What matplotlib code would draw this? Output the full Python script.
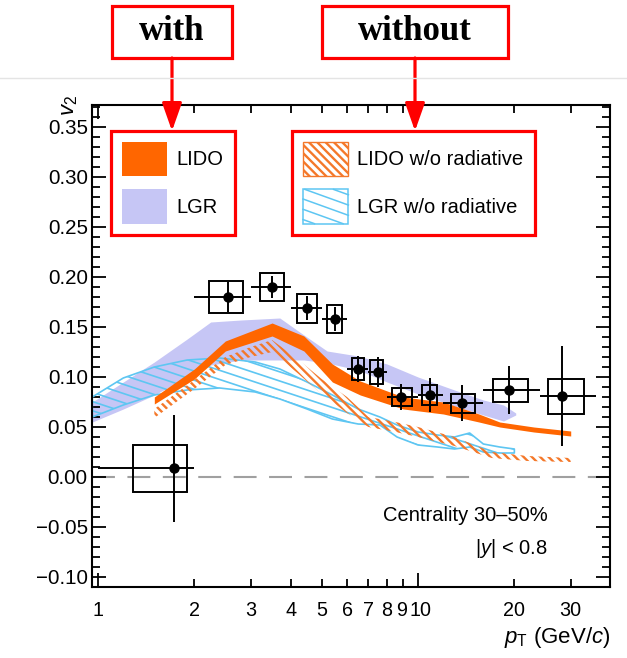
import numpy as np
import matplotlib
matplotlib.use("Agg")
import matplotlib.pyplot as plt
from matplotlib.patches import Patch, Rectangle, FancyArrowPatch
from matplotlib.collections import LineCollection
from matplotlib.lines import Line2D
from matplotlib.ticker import FixedLocator, MultipleLocator, FuncFormatter
from matplotlib.transforms import ScaledTranslation

plt.rcParams['font.family'] = ['Liberation Sans', 'DejaVu Sans']
plt.rcParams['mathtext.fontset'] = 'custom'
plt.rcParams['mathtext.rm'] = 'Liberation Sans'
plt.rcParams['mathtext.it'] = 'Liberation Sans:italic'
plt.rcParams['hatch.linewidth'] = 1.7

# ---- measured data (v2 vs pT) ----
pt = [1.73, 2.55, 3.5, 4.5, 5.5, 6.5, 7.5, 8.85, 10.9, 13.7, 19.2, 28.2]
pt_lo = [1, 2, 3, 4, 5, 6, 7, 8, 10, 12, 16, 24]
pt_hi = [2, 3, 4, 5, 6, 7, 8, 10, 12, 16, 24, 36]
v2 = [0.009, 0.180, 0.190, 0.169, 0.158, 0.108, 0.105, 0.080, 0.082, 0.074, 0.087, 0.081]
v2_stat = [0.0535, 0.015, 0.011, 0.012, 0.012, 0.013, 0.015, 0.013, 0.017, 0.018, 0.024, 0.050]
v2_syst = [0.0235, 0.016, 0.014, 0.0145, 0.014, 0.011, 0.012, 0.009, 0.010, 0.0095, 0.0115, 0.0175]
box_lo = [1.29, 2.22, 3.21, 4.18, 5.2, 6.2, 7.1, 8.3, 10.3, 12.7, 17.1, 25.4]
box_hi = [1.90, 2.84, 3.81, 4.84, 5.8, 6.8, 7.8, 9.6, 11.5, 15.1, 22.0, 33.0]

# ---- model bands ----
lgr_x = [0.96, 1.2, 1.5, 1.9, 2.25, 2.8, 3.7, 4.4, 5.2, 6.5, 8, 10, 13, 16, 18.5, 20.2]
lgr_hi = [0.075, 0.095, 0.115, 0.138, 0.155, 0.157, 0.159, 0.142, 0.126, 0.121, 0.113, 0.100, 0.087, 0.077, 0.072, 0.064]
lgr_lo = [0.055, 0.068, 0.082, 0.100, 0.112, 0.117, 0.117, 0.117, 0.114, 0.107, 0.095, 0.083, 0.071, 0.062, 0.056, 0.062]

lido_x = [1.5, 2.0, 2.5, 3.5, 4.4, 5.4, 6.6, 9, 12, 15.5, 18, 23, 30]
lido_hi = [0.080, 0.108, 0.136, 0.154, 0.141, 0.113, 0.096, 0.080, 0.075, 0.063, 0.055, 0.050, 0.046]
lido_lo = [0.073, 0.098, 0.126, 0.141, 0.126, 0.095, 0.082, 0.068, 0.063, 0.055, 0.050, 0.045, 0.041]

lido_norad_x = [1.5, 2.0, 2.5, 3.0, 3.5, 4.2, 5.0, 6.0, 7.0, 8.5, 10, 13, 17, 22, 30]
lido_norad_hi = [0.068, 0.097, 0.120, 0.130, 0.137, 0.118, 0.098, 0.080, 0.060, 0.055, 0.050, 0.040, 0.025, 0.021, 0.019]
lido_norad_lo = [0.059, 0.088, 0.112, 0.120, 0.125, 0.104, 0.083, 0.064, 0.050, 0.045, 0.040, 0.031, 0.019, 0.016, 0.015]

lgr_norad_x = [0.96, 1.2, 1.5, 1.9, 2.4, 3.1, 3.7, 4.5, 5.4, 6.5, 7.6, 8.6, 10, 11.5, 13, 14.5, 16, 18, 20]
lgr_norad_hi = [0.080, 0.099, 0.110, 0.117, 0.119, 0.115, 0.108, 0.095, 0.082, 0.068, 0.060, 0.052, 0.045, 0.042, 0.040, 0.044, 0.033, 0.030, 0.028]
lgr_norad_lo = [0.060, 0.072, 0.082, 0.087, 0.089, 0.085, 0.078, 0.068, 0.058, 0.053, 0.052, 0.040, 0.032, 0.030, 0.028, 0.030, 0.025, 0.024, 0.024]

c_lido = '#ff6600'
c_lido_h = '#f4782a'
c_lgr = '#c6c6f5'
c_blue = '#5ec6f2'

W, H = 627, 658
def fx(px):
    return px / W
def fy(py):
    return 1 - py / H

fig = plt.figure(figsize=(6.27, 6.58), dpi=100)
ax = fig.add_axes([fx(92), fy(587), fx(610) - fx(92), fy(105) - fy(587)])

# bands
ax.fill_between(lgr_x, lgr_lo, lgr_hi, color=c_lgr, lw=0, zorder=1)
band = ax.fill_between(lgr_norad_x, lgr_norad_lo, lgr_norad_hi, facecolor='none',
                       edgecolor=c_blue, lw=1.2, zorder=2)
# shallow hatch lines for the LGR w/o radiative band
segs = [[(0, c), (1, c - 0.355)] for c in np.arange(0.1, 1.0, 0.019)]
lc = LineCollection(segs, colors=c_blue, linewidths=1.2, transform=ax.transAxes, zorder=2)
lc.set_clip_path(band.get_paths()[0], band.get_transform())
ax.add_collection(lc)

ax.fill_between(lido_norad_x, lido_norad_lo, lido_norad_hi, facecolor='none',
                edgecolor=c_lido_h, lw=0, hatch='\\\\\\\\', zorder=3)
ax.fill_between(lido_x, lido_lo, lido_hi, color=c_lido, lw=0, zorder=4)

ax.axhline(0, color='#a0a0a0', lw=1.5, dashes=(11, 6), zorder=0)

# data: systematic boxes + stat error bars
for i in range(len(pt)):
    ax.add_patch(Rectangle((box_lo[i], v2[i] - v2_syst[i]), box_hi[i] - box_lo[i],
                           2 * v2_syst[i], facecolor='none', edgecolor='black', lw=1.4, zorder=5))
xerr = [np.array(pt) - np.array(pt_lo), np.array(pt_hi) - np.array(pt)]
ax.errorbar(pt, v2, xerr=xerr, yerr=v2_stat, fmt='o', color='black', ms=6.5,
            elinewidth=1.4, capsize=0, zorder=6)

ax.set_xscale('log')
ax.set_xlim(0.958, 39.8)
ax.set_ylim(-0.110, 0.372)

ax.xaxis.set_major_locator(FixedLocator([1, 10]))
ax.xaxis.set_minor_locator(FixedLocator([2, 3, 4, 5, 6, 7, 8, 9, 20, 30]))
ax.xaxis.set_major_formatter(FuncFormatter(lambda v, p: '%g' % v))
ax.xaxis.set_minor_formatter(FuncFormatter(lambda v, p: '%g' % v))
ax.yaxis.set_major_locator(MultipleLocator(0.05))
ax.yaxis.set_minor_locator(MultipleLocator(0.01))
ax.yaxis.set_major_formatter(FuncFormatter(lambda v, p: ('%.2f' % v).replace('-', '\u2212')))

ax.tick_params(which='both', direction='in', top=True, right=True, width=1.3)
ax.tick_params(which='major', length=10)
ax.tick_params(which='minor', length=5.5)
ax.tick_params(axis='x', which='both', pad=10, labelsize=14.2)
ax.tick_params(axis='y', which='both', pad=3, labelsize=14.8)
for s in ax.spines.values():
    s.set_linewidth(1.5)

fig.text(fx(610), fy(638), r'$p_{\mathrm{T}}$ (GeV/$c$)', ha='right', va='center', fontsize=16)
fig.text(fx(70), fy(95), r'$v_{2}$', ha='center', va='top', rotation=90, fontsize=16)

ax.text(0.88, 0.149, 'Centrality 30\u201350%', transform=ax.transAxes, ha='right', va='center', fontsize=14.5)
ax.text(0.88, 0.079, r'$|y|$ < 0.8', transform=ax.transAxes, ha='right', va='center', fontsize=14.5)


# legends
class ShallowHatchHandler:
    def legend_artist(self, legend, orig_handle, fontsize, handlebox):
        x0, y0 = -handlebox.xdescent, -handlebox.ydescent
        w, h = handlebox.width, handlebox.height
        tr = handlebox.get_transform()
        rect = Rectangle((x0, y0), w, h, facecolor='none', edgecolor=c_blue, lw=1.1, transform=tr)
        handlebox.add_artist(rect)
        s = 0.36
        for c in np.arange(0.12 * h, h + s * w, 0.3 * h):
            xa = max(0.0, (c - h) / s)
            xb = min(w, c / s)
            if xb > xa:
                handlebox.add_artist(Line2D([x0 + xa, x0 + xb], [y0 + c - s * xa, y0 + c - s * xb],
                                            color=c_blue, lw=1.1, transform=tr))
        return rect


leg_kw = dict(loc='upper left', bbox_transform=fig.transFigure, frameon=True, fancybox=False,
              edgecolor='red', framealpha=1, borderaxespad=0, borderpad=0.55, handlelength=2.25,
              handleheight=2.24, labelspacing=0.65, handletextpad=0.45, fontsize=14.5)
h1 = [Patch(facecolor=c_lido, edgecolor='none', label='LIDO'),
      Patch(facecolor=c_lgr, edgecolor='none', label='LGR')]
leg1 = ax.legend(handles=h1, bbox_to_anchor=(fx(111), fy(131)), **leg_kw)
leg1.get_frame().set_linewidth(2.3)
ax.add_artist(leg1)

lgr_norad_handle = Patch(facecolor='none', edgecolor=c_blue, label='LGR w/o radiative')
h2 = [Patch(facecolor='none', edgecolor=c_lido_h, hatch='\\\\\\\\', lw=1, label='LIDO w/o radiative'),
      lgr_norad_handle]
leg2 = ax.legend(handles=h2, bbox_to_anchor=(fx(292), fy(131)),
                 handler_map={lgr_norad_handle: ShallowHatchHandler()}, **leg_kw)
leg2.get_frame().set_linewidth(2.3)
leg1.set_zorder(10)
leg2.set_zorder(10)

# annotation boxes above the plot
fig.add_artist(Line2D([0, 1], [fy(78), fy(78)], color='#e4e4e4', lw=1, transform=fig.transFigure))
for label, x0, x1 in [('with', 112, 232), ('without', 322, 508)]:
    fig.add_artist(Rectangle((fx(x0), fy(58)), fx(x1) - fx(x0), fy(6) - fy(58), facecolor='white',
                             edgecolor='red', lw=2.3, transform=fig.transFigure))
    fig.text(fx((x0 + x1) / 2), fy(32), label, ha='center', va='center', fontsize=25,
             fontweight='bold', family=['Liberation Serif', 'DejaVu Serif'])
    xm = fx((x0 + x1) / 2)
    fig.add_artist(FancyArrowPatch((xm, fy(58)), (xm, fy(131)), transform=fig.transFigure,
                                   arrowstyle='-|>,head_length=0.85,head_width=0.3', mutation_scale=20,
                                   color='red', lw=2.3, shrinkA=0, shrinkB=0))

# "9" and "10" sit very close on the log axis: nudge them apart a little
fig.canvas.draw()
for t in ax.xaxis.get_major_ticks() + ax.xaxis.get_minor_ticks():
    txt = t.label1.get_text()
    if txt == '9':
        t.label1.set_transform(t.label1.get_transform() + ScaledTranslation(-1.6 / 72, 0, fig.dpi_scale_trans))
    elif txt == '10':
        t.label1.set_transform(t.label1.get_transform() + ScaledTranslation(1.6 / 72, 0, fig.dpi_scale_trans))

fig.savefig('out.png', dpi=100)
